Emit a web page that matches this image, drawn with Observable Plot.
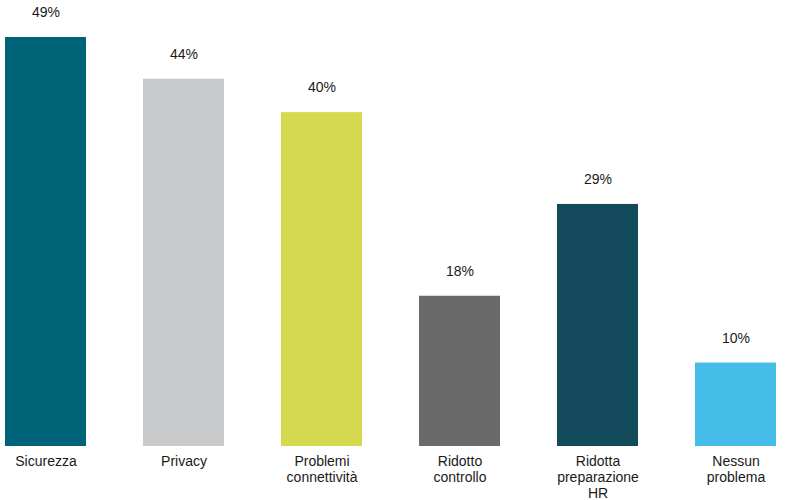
<!DOCTYPE html>
<html>
<head>
<meta charset="utf-8">
<script src="https://cdn.jsdelivr.net/npm/d3@7"></script>
<script src="https://cdn.jsdelivr.net/npm/@observablehq/plot@0.6"></script>
<style>
  body { margin: 0; background: #fff; }
  #chart { width: 791px; height: 500px; }
</style>
</head>
<body>
<div id="chart"></div>
<script>
const categories = ["Sicurezza", "Privacy", "Problemi connettività", "Ridotto controllo", "Ridotta preparazione HR", "Nessun problema"];
const tickLabels = ["Sicurezza", "Privacy", "Problemi\nconnettività", "Ridotto\ncontrollo", "Ridotta\npreparazione\nHR", "Nessun\nproblema"];
const values = [49, 44, 40, 18, 29, 10];
const colors = ["#006478", "#c8c9cb", "#d4d94f", "#6a6a6a", "#124a5c", "#45bde8"];

const data = categories.map((c, i) => ({cat: c, value: values[i], label: values[i] + "%"}));
const labelOf = new Map(categories.map((c, i) => [c, tickLabels[i]]));

const chart = Plot.plot({
  width: 791,
  height: 500,
  marginTop: 37,
  marginBottom: 54,
  marginLeft: 5,
  marginRight: 13,
  style: {fontFamily: "'Liberation Sans', Arial, sans-serif", fontSize: "14px", color: "#1a1a1a", background: "#fff"},
  x: {domain: categories, paddingInner: 0.41, paddingOuter: 0, align: 0, label: null},
  y: {domain: [0, 49], axis: null},
  color: {domain: categories, range: colors},
  marks: [
    Plot.barY(data, {x: "cat", y: "value", fill: "cat"}),
    Plot.text(data, {x: "cat", y: "value", text: "label", dy: -25, fontSize: 14, fill: "#1a1a1a"}),
    Plot.axisX({tickSize: 0, tickPadding: 8, tickFormat: d => labelOf.get(d), fontSize: 14, lineHeight: 1.15, label: null, fill: "#1a1a1a"})
  ]
});
document.getElementById("chart").appendChild(chart);
</script>
</body>
</html>
